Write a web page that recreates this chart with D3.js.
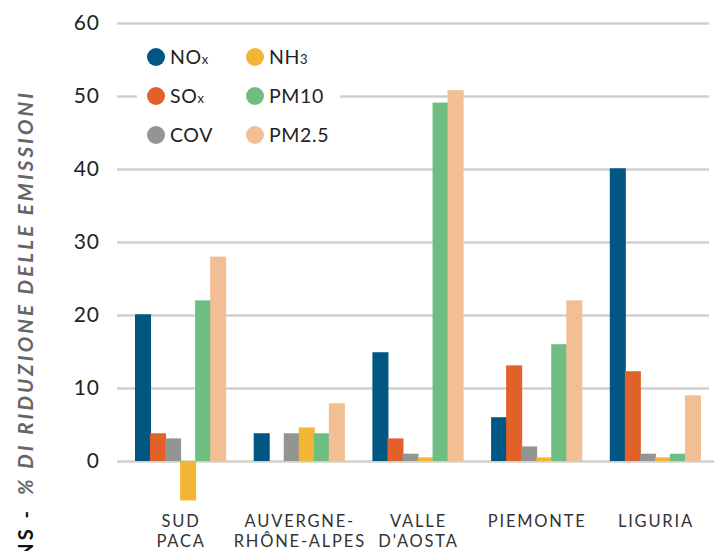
<!DOCTYPE html>
<html lang="it">
<head>
  <meta charset="UTF-8">
  <title>% di riduzione delle emissioni</title>
  <script src="https://d3js.org/d3.v7.min.js"></script>
  <style>
    body { margin: 0; background: #fff; }
    svg { display: block; font-family: Lato, "Open Sans", sans-serif; }
  </style>
</head>
<body>
  <script>
    const width = 717, height = 551;

    // data
    const regions = [['SUD', 'PACA'], ['AUVERGNE-', 'RHÔNE-ALPES'], ['VALLE', "D'AOSTA"], ['PIEMONTE'], ['LIGURIA']];
    const pollutants = ['NOx', 'SOx', 'COV', 'NH3', 'PM10', 'PM2.5'];
    const colors = ['#005783', '#e0622a', '#929591', '#f2b634', '#6fbe81', '#f2be94'];
    const nox  = [20.1, 3.8, 14.9, 6.0, 40.1];
    const sox  = [3.8, 0, 3.1, 13.1, 12.3];
    const cov  = [3.1, 3.8, 1.0, 2.0, 1.0];
    const nh3  = [-5.4, 4.6, 0.5, 0.5, 0.5];
    const pm10 = [22.0, 3.8, 49.1, 16.0, 1.0];
    const pm25 = [28.0, 7.9, 50.8, 22.0, 9.0];
    const yTicks = [0, 10, 20, 30, 40, 50, 60];

    const series = [nox, sox, cov, nh3, pm10, pm25];
    const keys = regions.map(r => r.join(' '));

    const svg = d3.select('body').append('svg')
      .attr('width', width)
      .attr('height', height);

    const y = d3.scaleLinear().domain([0, 60]).range([461, 23]);
    const x0 = d3.scaleBand().domain(keys).range([120.75, 714.25])
      .paddingInner(0.24).paddingOuter(0.12);
    const x1 = d3.scaleBand().domain(pollutants).range([0, x0.bandwidth()]);

    // grid + tick labels
    const yAxis = d3.axisLeft(y).tickValues(yTicks)
      .tickSize(-(709 - 117)).tickPadding(17).tickFormat(d3.format('d'));
    const gy = svg.append('g').attr('transform', 'translate(117,0)').call(yAxis);
    gy.select('.domain').remove();
    gy.selectAll('.tick line').attr('stroke', '#d0d0cc').attr('stroke-width', 2.5);
    gy.selectAll('.tick text').attr('fill', '#222').style('font-size', '21px')
      .style('letter-spacing', '1px')
      .style('font-family', 'Lato, sans-serif');
    gy.selectAll('.tick').filter(d => d === 0).select('line').attr('x2', 714 - 117);

    // bars
    const groups = svg.append('g').selectAll('g')
      .data(keys).join('g')
      .attr('transform', d => `translate(${x0(d)},0)`);
    groups.selectAll('rect')
      .data((d, i) => pollutants.map((p, j) => ({ p, j, v: series[j][i] })))
      .join('rect')
      .attr('x', d => x1(d.p))
      .attr('width', x1.bandwidth() + 1)
      .attr('y', d => y(Math.max(0, d.v)))
      .attr('height', d => Math.abs(y(d.v) - y(0)))
      .attr('fill', d => colors[d.j]);

    // x labels
    const xl = svg.append('g').selectAll('text')
      .data(regions).join('text')
      .attr('x', (d, i) => x0(keys[i]) + x0.bandwidth() / 2 + 1)
      .attr('y', 527)
      .attr('text-anchor', 'middle')
      .attr('fill', '#333')
      .style('font-size', '16.5px')
      .style('letter-spacing', '1.8px');
    xl.selectAll('tspan').data(d => d).join('tspan')
      .attr('x', function () { return this.parentNode.getAttribute('x'); })
      .attr('dy', (d, i) => i === 0 ? 0 : 20)
      .text(d => d);

    // legend
    const legend = svg.append('g');
    legend.append('rect').attr('x', 137).attr('y', 38).attr('width', 203).attr('height', 115)
      .attr('fill', '#fff');
    const labels = [['NO', 'x'], ['SO', 'x'], ['COV', ''], ['NH', '3'], ['PM10', ''], ['PM2.5', '']];
    const li = legend.selectAll('g.item').data(labels).join('g')
      .attr('class', 'item')
      .attr('transform', (d, i) => `translate(${156 + Math.floor(i / 3) * 99},${57 + (i % 3) * 39})`);
    li.append('circle').attr('r', 9).attr('fill', (d, i) => colors[i]);
    const lt = li.append('text').attr('x', 14).attr('dy', '0.35em')
      .attr('fill', '#222').style('font-size', '19.5px').style('letter-spacing', '0.6px');
    lt.append('tspan').text(d => d[0]);
    lt.append('tspan').style('font-size', '13px').text(d => d[1]);

    // y title, clipped at the bottom edge as in the source
    svg.append('text')
      .attr('transform', 'translate(33,93) rotate(-90)')
      .attr('text-anchor', 'end')
      .attr('textLength', 402)
      .attr('lengthAdjust', 'spacing')
      .attr('fill', '#666')
      .style('font-size', '20.5px')
      .style('font-weight', 700)
      .style('font-style', 'italic')
      .text('% DI RIDUZIONE DELLE EMISSIONI');
    svg.append('text')
      .attr('transform', 'translate(33,508) rotate(-90)')
      .attr('text-anchor', 'end')
      .attr('fill', '#111')
      .style('font-size', '20px')
      .style('font-weight', 700)
      .style('letter-spacing', '3px')
      .text('EMISSIONS -');
  </script>
</body>
</html>
